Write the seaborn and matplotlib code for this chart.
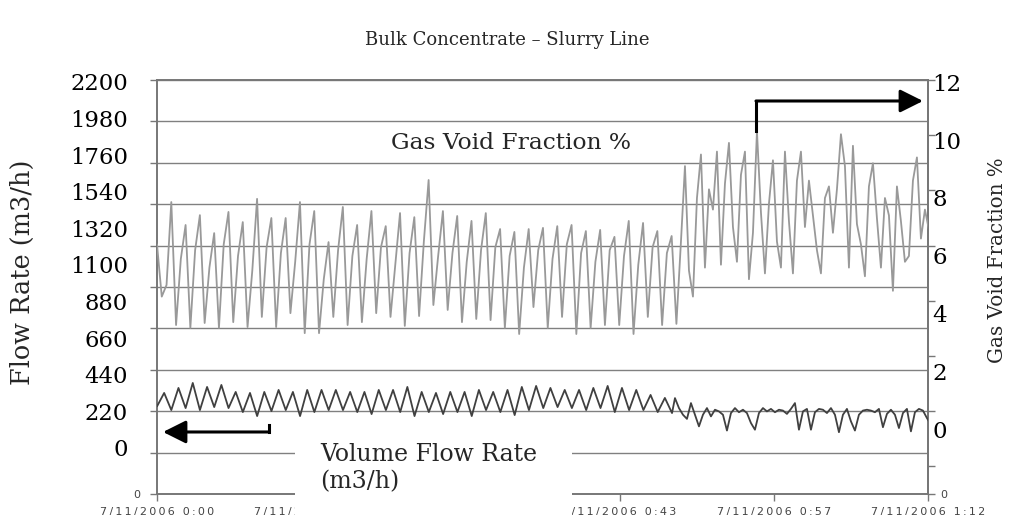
import numpy as np
import matplotlib
matplotlib.use("Agg")
import matplotlib.pyplot as plt
import seaborn as sns
from matplotlib.patches import Rectangle, FancyArrowPatch
from matplotlib.lines import Line2D

# ---- values ----
chart_title = "Bulk Concentrate \u2013 Slurry Line"
time_ticks = [0, 14.4, 28.8, 43.2, 57.6, 72.0]  # minutes after 7/11/2006 0:00
time_labels = ["7/11/2006 0:00", "7/11/2006 0:14", "7/11/2006 0:28",
               "7/11/2006 0:43", "7/11/2006 0:57", "7/11/2006 1:12"]
flow_ticks = list(range(0, 2201, 220))
gvf_ticks = list(range(0, 13, 2))

# sampling of the logged series (minutes)
gvf_step_first = 0.445   # gas: peak, trough, shoulder in each oscillation
flow_step_first = 0.668  # flow: peak, trough in each oscillation
step_second = 0.3735     # second part: irregular, sampled finer
gvf_second_start = 48.93
flow_second_start = 48.37

# Gas void fraction %
gvf_lead = [6.4, 4.6, 5.0]
gvf_peaks = [7.86, 7.07, 7.41, 6.79, 7.52, 7.17, 7.97, 7.31, 7.31, 7.86, 7.55, 6.48,
             7.69, 7.07, 7.55, 7.03, 7.48, 7.34, 8.62, 7.55, 7.38, 7.21, 7.48, 6.93,
             6.83, 6.93, 6.97, 7.03, 7.07, 6.86, 6.90, 6.66, 7.21, 7.14, 6.86, 6.69]
gvf_troughs = [3.62, 3.52, 3.69, 3.52, 3.72, 3.55, 3.90, 3.55, 4.03, 3.34, 3.34, 3.90,
               3.62, 3.72, 4.03, 3.90, 3.59, 3.93, 4.31, 4.14, 3.72, 3.83, 3.79, 3.52,
               3.31, 4.24, 3.52, 3.90, 3.31, 3.52, 3.62, 3.62, 3.31, 3.90, 3.62, 3.66]
gvf_shoulders = [5.9, 6.2, 5.6, 6.4, 6.0, 5.5, 6.3, 6.1, 5.8, 6.4, 5.2, 6.2,
                 6.0, 5.9, 6.3, 5.7, 6.1, 6.5, 6.0, 6.1, 5.8, 6.2, 6.3, 6.0,
                 5.6, 6.2, 5.9, 6.4, 6.1, 5.8, 6.2, 6.0, 5.7, 6.3, 6.1]
gvf_second = [6.5, 9.1, 5.5, 4.6, 8.0, 9.5, 5.6, 8.3, 7.6, 9.6, 5.7, 8.5, 9.9, 7.0,
              5.8, 8.8, 9.6, 5.2, 6.8, 10.3, 7.5, 5.4, 7.8, 9.3, 6.5, 5.6, 9.6, 7.2,
              5.4, 8.6, 9.6, 7.0, 8.6, 7.4, 6.2, 5.4, 8.0, 8.4, 6.8, 8.3, 10.2, 9.1,
              5.6, 9.8, 7.1, 6.4, 5.3, 8.4, 9.2, 7.3, 5.6, 8.0, 7.4, 4.8, 8.4, 7.2,
              5.8, 6.0, 8.6, 9.4, 6.6, 7.6, 6.9]

# Volume flow rate (m3/h)
flow_lead = [250]
flow_peaks = [331, 361, 391, 367, 379, 337, 331, 337, 349, 337, 349, 349,
              349, 337, 337, 349, 349, 367, 337, 331, 337, 337, 349, 337,
              349, 367, 373, 361, 349, 349, 361, 373, 361, 349, 319, 301]
flow_troughs = [228, 240, 228, 246, 240, 216, 192, 222, 228, 192, 216, 228,
                228, 216, 204, 228, 216, 192, 216, 204, 216, 192, 228, 216,
                198, 228, 240, 246, 240, 228, 240, 216, 228, 228, 216, 210]
flow_second = [300, 240, 200, 175, 270, 200, 130, 200, 240, 190, 230, 220, 200,
               105, 210, 240, 215, 230, 210, 150, 110, 210, 240, 220, 235, 215,
               230, 225, 205, 235, 270, 110, 220, 235, 110, 215, 235, 230, 210,
               240, 200, 95, 200, 235, 160, 105, 200, 225, 230, 225, 215, 235,
               125, 205, 230, 200, 120, 210, 235, 100, 215, 235, 225, 180, 140]


def build_series(lead, cycles, step_first, second, second_start):
    # cycles: lists walked one oscillation at a time (peak, trough, ...)
    first = list(lead)
    for i in range(len(cycles[0])):
        for part in cycles:
            if i < len(part):
                first.append(part[i])
    t_first = np.arange(len(first)) * step_first
    t_second = second_start + np.arange(len(second)) * step_second
    return np.concatenate([t_first, t_second]), np.concatenate([first, second])


gvf_t, gvf_v = build_series(gvf_lead, [gvf_peaks, gvf_troughs, gvf_shoulders],
                            gvf_step_first, gvf_second, gvf_second_start)
flow_t, flow_v = build_series(flow_lead, [flow_peaks, flow_troughs],
                              flow_step_first, flow_second, flow_second_start)

# ---- styling ----
sns.set_style("white")
plt.rcParams['font.family'] = ['DejaVu Serif']
grey = '#777777'
small_font = ['DejaVu Sans']

fig = plt.figure(figsize=(10.14, 5.15), dpi=100)
ax = fig.add_axes([157 / 1014, 21 / 515, 771 / 1014, 414 / 515])

# base axis: gridlines, small ticks and the date labels
ax.set_ylim(0, 2200)
ax.set_yticks(flow_ticks)
ax.set_yticklabels(["0"] + [""] * (len(flow_ticks) - 1))
ax.grid(axis='y', color='#808080', linewidth=1.0)
ax.grid(axis='x', visible=False)
ax.set_xticks(time_ticks)
ax.set_xticklabels(["\u2009".join(lbl) for lbl in time_labels])
ax.tick_params(axis='y', left=True, right=False, direction='out', length=5, width=1,
               color=grey, pad=7, labelsize=8, labelcolor='#444444')
ax.tick_params(axis='x', bottom=True, direction='out', length=5, width=1,
               color=grey, pad=4, labelsize=8, labelcolor='#444444')
for lbl in ax.get_xticklabels() + ax.get_yticklabels():
    lbl.set_family(small_font)
for side in ['left', 'bottom', 'top', 'right']:
    ax.spines[side].set_color(grey)
    ax.spines[side].set_linewidth(1.4)

# underlying right-hand ticks
ax_rt = ax.twinx()
ax_rt.set_ylim(0, 7.5)
ax_rt.set_yticks([0, 0.5, 1.5, 2.5, 3.5, 4.5, 5.5, 6.5, 7.5])
ax_rt.set_yticklabels(["0"] + [""] * 8)
ax_rt.tick_params(axis='y', right=True, left=False, direction='out', length=5, width=1,
                  color=grey, pad=4, labelsize=8, labelcolor='#444444')
for lbl in ax_rt.get_yticklabels():
    lbl.set_family(small_font)
for side in ['left', 'bottom', 'top']:
    ax_rt.spines[side].set_visible(False)
ax_rt.spines['right'].set_color(grey)
ax_rt.spines['right'].set_linewidth(1.4)

# flow rate on the left scale
ax_flow = ax.twinx()
ax_flow.yaxis.tick_left()
ax_flow.yaxis.set_label_position('left')
sns.lineplot(x=flow_t, y=flow_v, ax=ax_flow, color='#404040', linewidth=1.3,
             estimator=None, sort=False)
ax_flow.set_ylim(-276.5, 2212)
ax_flow.set_yticks(flow_ticks)
ax_flow.tick_params(axis='y', left=True, right=False, length=0, pad=21,
                    labelsize=16.4, labelcolor='black')
ax_flow.set_ylabel("Flow Rate (m3/h)", fontsize=18.4)
ax_flow.yaxis.set_label_coords(-0.158, 0.536)
for s in ax_flow.spines.values():
    s.set_visible(False)

# gas void fraction on the right scale
ax_gvf = ax.twinx()
sns.lineplot(x=gvf_t, y=gvf_v, ax=ax_gvf, color='#999999', linewidth=1.3,
             estimator=None, sort=False)
ax_gvf.set_ylim(-2.207, 12.069)
ax_gvf.set_yticks(gvf_ticks)
ax_gvf.tick_params(axis='y', right=True, left=False, length=0, pad=3,
                   labelsize=16.5, labelcolor='black')
ax_gvf.yaxis.tick_right()
ax_gvf.set_ylabel("Gas Void Fraction %", fontsize=14.3)
ax_gvf.yaxis.set_label_position('right')
ax_gvf.yaxis.set_label_coords(1.078, 0.565)
for s in ax_gvf.spines.values():
    s.set_visible(False)

ax.set_xlim(0, 72)
ax.set_xlabel("")

# titles and series captions
fig.text(0.5, 0.922, chart_title, ha='center', va='center', fontsize=13)
fig.text(0.504, 0.7223, "Gas Void Fraction %", ha='center', va='center', fontsize=16.8)
fig.add_artist(Rectangle((0.2909, 0.0), 0.2732, 0.1748, transform=fig.transFigure,
                         facecolor='white', edgecolor='none', zorder=5))
fig.text(0.3156, 0.0913, "Volume Flow Rate\n(m3/h)", ha='left', va='center',
         fontsize=17, linespacing=1.25, zorder=6)

# axis pointer arrows
arrow_kw = dict(arrowstyle='-|>,head_length=1.0,head_width=0.5', mutation_scale=14,
                color='black', linewidth=2.2, shrinkA=0, shrinkB=0,
                transform=ax.transAxes)
fig.add_artist(FancyArrowPatch((0.7769, 0.9493), (0.9935, 0.9493), **arrow_kw))
fig.add_artist(Line2D([0.7769, 0.7769], [0.8768, 0.9493], transform=ax.transAxes,
                      color='black', linewidth=2.2, solid_capstyle='projecting'))
fig.add_artist(FancyArrowPatch((0.1453, 0.1498), (0.0078, 0.1498), **arrow_kw))
fig.add_artist(Line2D([0.1453, 0.1453], [0.1498, 0.1667], transform=ax.transAxes,
                      color='black', linewidth=2.2, solid_capstyle='projecting'))

fig.savefig("out.png", dpi=100)
